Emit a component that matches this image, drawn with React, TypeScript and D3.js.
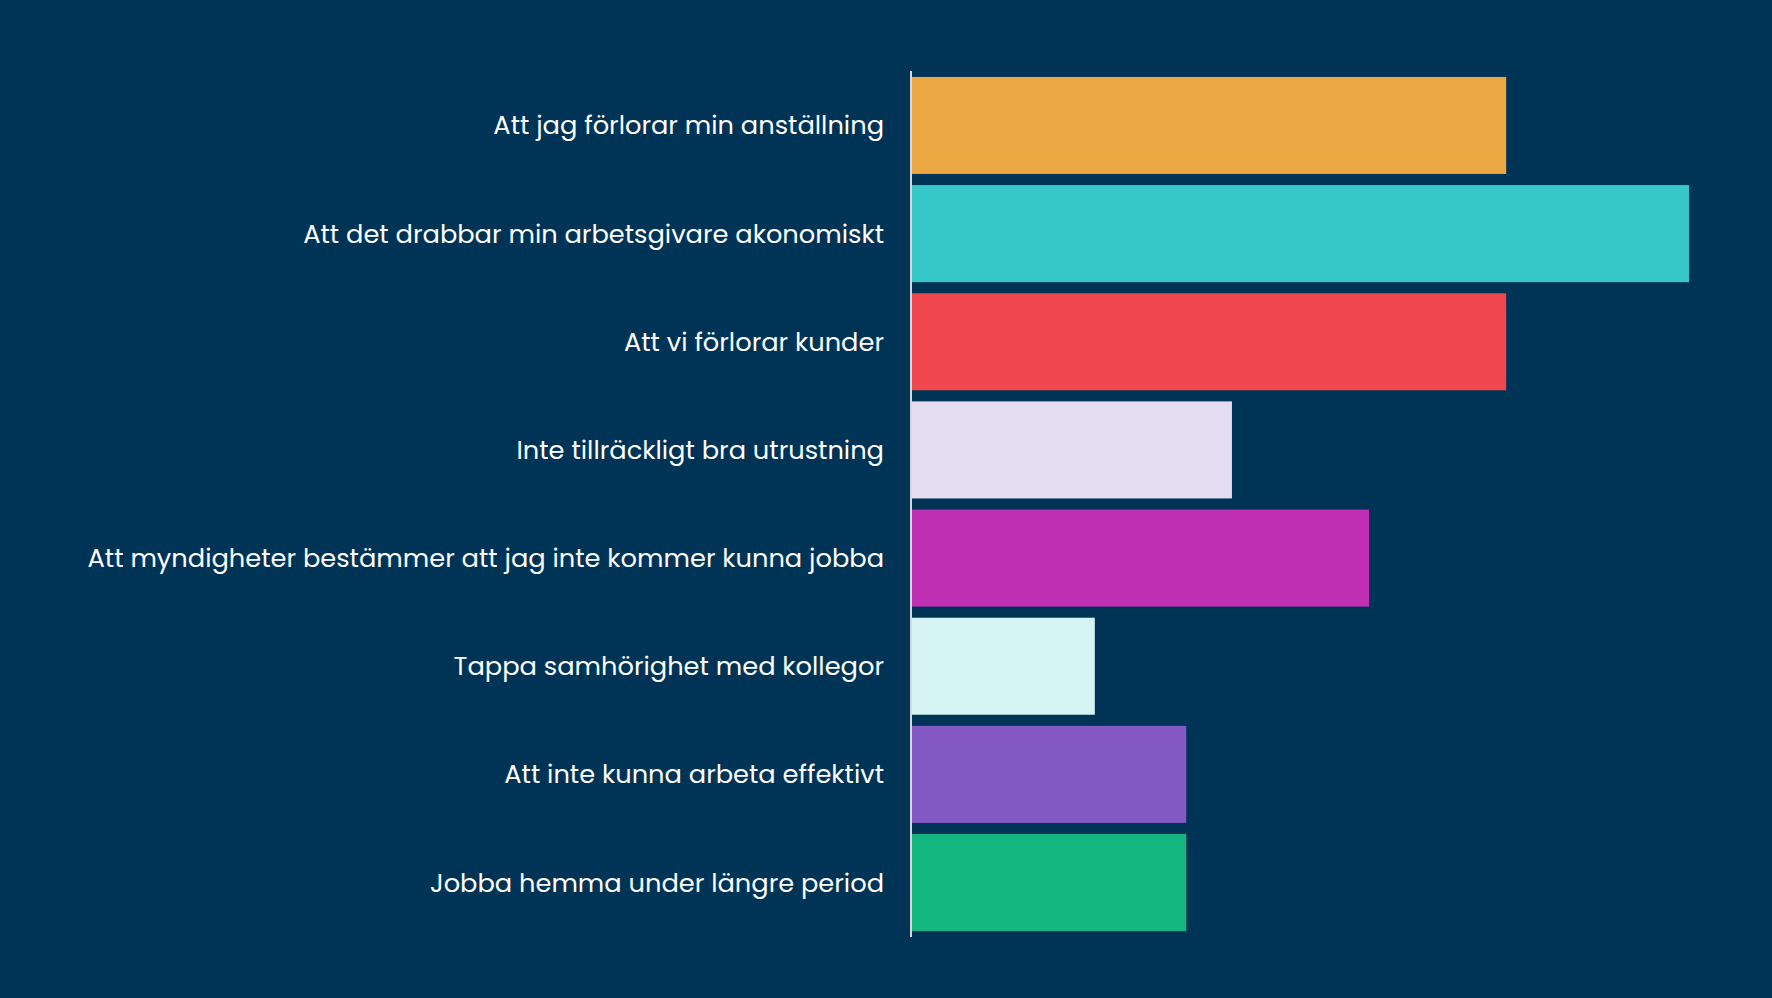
import React, { useRef, useEffect } from "react";
import * as d3 from "d3";

const categories = [
  "Att jag förlorar min anställning",
  "Att det drabbar min arbetsgivare akonomiskt",
  "Att vi förlorar kunder",
  "Inte tillräckligt bra utrustning",
  "Att myndigheter bestämmer att jag inte kommer kunna jobba",
  "Tappa samhörighet med kollegor",
  "Att inte kunna arbeta effektivt",
  "Jobba hemma under längre period",
];
const values = [13, 17, 13, 7, 10, 4, 6, 6];
const colors = [
  "#EBA742",
  "#36C8C9",
  "#EF474D",
  "#E4DDF1",
  "#C12FB5",
  "#D6F4F3",
  "#8459C3",
  "#14B77F",
];

const App: React.FC = () => {
  const ref = useRef<SVGSVGElement | null>(null);

  useEffect(() => {
    const width = 1772;
    const height = 998;
    const svg = d3.select(ref.current);
    svg.selectAll("*").remove();
    svg.attr("width", width).attr("height", height);

    svg.append("rect").attr("width", width).attr("height", height).attr("fill", "#003457");

    const x = d3.scaleLinear().domain([0, 17]).range([912, 1689]);
    const y = d3
      .scaleBand()
      .domain(categories)
      .range([71, 937])
      .paddingInner(0.103)
      .paddingOuter(0.055);

    svg
      .append("g")
      .selectAll("rect")
      .data(categories)
      .enter()
      .append("rect")
      .attr("x", x(0))
      .attr("y", (d) => y(d) || 0)
      .attr("width", (d, i) => x(values[i]) - x(0))
      .attr("height", y.bandwidth())
      .attr("fill", (d, i) => colors[i]);

    svg
      .append("line")
      .attr("x1", 911)
      .attr("x2", 911)
      .attr("y1", 71)
      .attr("y2", 937)
      .attr("stroke", "#d9d9d9")
      .attr("stroke-width", 2);

    svg
      .append("g")
      .selectAll("text")
      .data(categories)
      .enter()
      .append("text")
      .attr("x", 884)
      .attr("y", (d) => (y(d) || 0) + y.bandwidth() / 2)
      .attr("dy", "0.35em")
      .attr("text-anchor", "end")
      .attr("fill", "#ffffff")
      .style("font-family", "Poppins, 'Open Sans', sans-serif")
      .style("font-size", "25.7px")
      .text((d) => d);
  }, []);

  return (
    <div style={{ position: "absolute", left: 0, top: 0 }}>
      <svg ref={ref}></svg>
    </div>
  );
};

export default App;
